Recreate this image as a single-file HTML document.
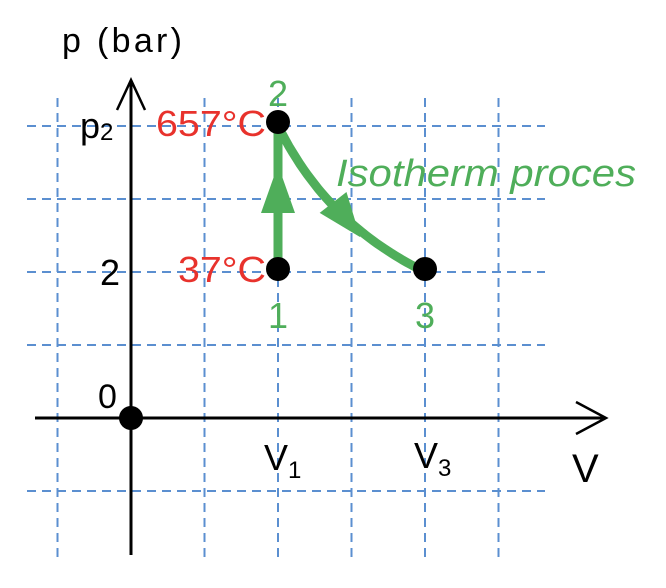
<!DOCTYPE html>
<html><head><meta charset="utf-8"><style>
html,body{margin:0;padding:0;background:#fff;}
svg{display:block;font-family:"Liberation Sans",sans-serif;}
</style></head><body>
<svg id="chart" width="666" height="588" viewBox="0 0 666 588">
<g id="grid"></g>
<g id="axes">
 <line x1="35" y1="418" x2="606" y2="418" stroke="#000" stroke-width="3"/>
 <polyline points="576,402 606,418 576,434" fill="none" stroke="#000" stroke-width="2.5"/>
 <line x1="131" y1="555" x2="131" y2="80" stroke="#000" stroke-width="3"/>
 <polyline points="117,110 131,80 145,110" fill="none" stroke="#000" stroke-width="2.5"/>
 <text x="62" y="52" font-size="34" textLength="120">p (bar)</text>
 <text x="572" y="482" font-size="40">V</text>
 <text x="98" y="408" font-size="34">0</text>
 <text x="100" y="285" font-size="36">2</text>
 <text x="80" y="138" font-size="36">p<tspan font-size="24" dy="2">2</tspan></text>
 <text x="264" y="470" font-size="36">V<tspan font-size="24" dy="8">1</tspan></text>
 <text x="414" y="468" font-size="36">V<tspan font-size="24" dy="8">3</tspan></text>
</g>
<g id="process"></g>
<text x="336" y="186" font-size="38" font-style="italic" fill="#4fae5a" textLength="300" lengthAdjust="spacingAndGlyphs">Isotherm proces</text>
</svg>
<script>
const gridX = [-1, 1, 2, 3, 4, 5];
const gridY = [-1, 1, 2, 3, 4];
const pointV = [2, 2, 4];
const pointP = [2, 4, 2];
const pointLabels = ["1", "2", "3"];
const tempLabels = ["37°C", "657°C", ""];
const isothermC = 8;

const NS = "http://www.w3.org/2000/svg";
const X = v => 131 + v * 73.5;
const Y = p => 418 - p * 73;
function mk(tag, attrs, parent) {
  const e = document.createElementNS(NS, tag);
  for (const k in attrs) e.setAttribute(k, attrs[k]);
  parent.appendChild(e);
  return e;
}
const grid = document.getElementById("grid");
gridX.forEach(v => {
  const l = mk("line", {x1: X(v), x2: X(v), y1: 98, y2: 562, stroke: "#5b8fd0", "stroke-width": 2, "stroke-dasharray": "9,6"}, grid);
  
  
});
gridY.forEach(p => {
  const l = mk("line", {x1: 27, x2: 545, y1: Y(p), y2: Y(p), stroke: "#5b8fd0", "stroke-width": 2, "stroke-dasharray": "9,6"}, grid);
  
  
});
const proc = document.getElementById("process");
const green = "#4fae5a";
const seg = mk("line", {x1: X(pointV[0]), y1: Y(pointP[0]), x2: X(pointV[1]), y2: Y(pointP[1]), stroke: green, "stroke-width": 9}, proc);


const mx = X(pointV[0]), my = (Y(pointP[0]) + Y(pointP[1])) / 2;
const a1 = mk("polygon", {points: `${mx},${my-34} ${mx-17},${my+14} ${mx+17},${my+14}`, fill: green}, proc);


let d = "";
for (let i = 0; i <= 40; i++) {
  const v = pointV[1] + (pointV[2] - pointV[1]) * i / 40;
  d += (i ? "L" : "M") + X(v).toFixed(1) + "," + Y(isothermC / v).toFixed(1);
}
const curve = mk("path", {d: d, fill: "none", stroke: green, "stroke-width": 9}, proc);


const va = 2.9, ax = X(va), ay = Y(isothermC / va);
const a2 = mk("polygon", {points: `0,26 -17,-18 17,-18`, fill: green, transform: `translate(${ax},${ay}) rotate(-38)`}, proc);


const o = mk("circle", {cx: X(0), cy: Y(0), r: 12, fill: "#000"}, proc);


pointV.forEach((v, i) => {
  const c = mk("circle", {cx: X(v), cy: Y(pointP[i]) - (i === 1 ? 4 : 3), r: 12, fill: "#000"}, proc);
  
  
  const above = i === 1;
  const t = mk("text", {x: X(v), y: above ? Y(pointP[i]) - 20 : Y(pointP[i]) + 56, "font-size": 36, fill: green, "text-anchor": "middle"}, proc);
  t.textContent = pointLabels[i];
  
  
  if (tempLabels[i]) {
    const w = tempLabels[i].length * 22;
    const tt = mk("text", {x: X(v) - 12 - w, y: Y(pointP[i]) + 10, "font-size": 36, fill: "#e8322c", textLength: w, lengthAdjust: "spacingAndGlyphs"}, proc);
    tt.textContent = tempLabels[i];
    
    
  }
});
</script>
</body></html>
